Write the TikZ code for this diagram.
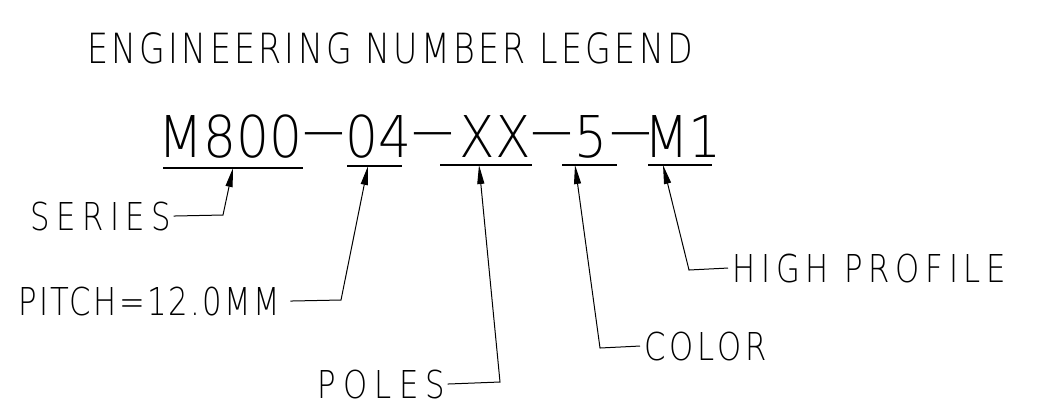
\documentclass[tikz,border=0pt]{standalone}
\usepackage{fontspec}
\newfontfamily\cadfont[FakeStretch=0.8]{DejaVuSans-ExtraLight.ttf}
\newfontfamily\cadwide[FakeStretch=0.9]{DejaVuSans-ExtraLight.ttf}
\newfontfamily\caddash[FakeStretch=2.45]{DejaVuSans-ExtraLight.ttf}
\usetikzlibrary{arrows.meta,positioning}
\tikzset{>={Triangle[length=9.5pt,width=3.5pt]}}
% segment centred on the pen, then move on to the next centre
\newcommand{\pnseg}[2]{\makebox[0pt][c]{#1}\hspace{#2}}
\newcommand{\pndash}[1]{\makebox[0pt][c]{\raisebox{3.75pt}{\caddash -}}\hspace{#1}}
\tikzset{
    legend/.style={inner sep=0pt,anchor=base west,
        font=\cadfont\fontsize{20.8}{20.8}\selectfont\addfontfeature{LetterSpace=7.8}},
    partno/.style={inner sep=0pt,anchor=base west,
        font=\cadwide\fontsize{28.8}{28.8}\selectfont},
    callout/.style={inner sep=0pt,anchor=base west,
        font=\cadfont\fontsize{19.2}{19.2}\selectfont\addfontfeature{LetterSpace=#1}},
    uline/.style={line width=0.6pt},
    leader/.style={->,line width=0.5pt}
}

\begin{document}
\begin{tikzpicture}[x=0.5pt,y=-0.5pt]
    \useasboundingbox (0,0) rectangle (1037,409);
    % title
    \node[legend] (title) at (87,63) {ENGINEERING NUMBER LEGEND};
    % part number
    \node[partno] (pn) at (230,157) {\pnseg{M800}{46.75pt}\pndash{27.5pt}%
        \pnseg{04}{27.25pt}\pndash{31pt}\pnseg{XX}{28.25pt}\pndash{19.75pt}%
        \pnseg{5}{19.75pt}\pndash{26pt}\makebox[0pt][c]{M1}};
    % underlines
    \coordinate (u1a) at (163,168); \coordinate (u1b) at (303,168);
    \coordinate (u2a) at (347,166); \coordinate (u2b) at (402,166);
    \coordinate (u3a) at (440,165); \coordinate (u3b) at (532,165);
    \coordinate (u4a) at (562,165); \coordinate (u4b) at (617,165);
    \coordinate (u5a) at (648,165); \coordinate (u5b) at (712,165);
    \foreach \i in {1,...,5}
        \draw[uline] (u\i a) -- (u\i b);
    % callouts
    \node[callout=17] (series) at (30,230)  {SERIES};
    \node[callout=6]  (pitch)  at (18,315)  {PITCH=12.0MM};
    \node[callout=19] (poles)  at (317,398) {POLES};
    \node[callout=10] (color)  at (644,360) {COLOR};
    \node[callout=15] (high)   at (732,282) {HIGH PROFILE};
    % arrow tips and bends
    \coordinate (t1) at (233,168); \coordinate (b1) at (223,215);
    \coordinate (t2) at (368,166); \coordinate (b2) at (341,300);
    \coordinate (t3) at (479,165); \coordinate (b3) at (500,382);
    \coordinate (t4) at (575,165); \coordinate (b4) at (600,348);
    \coordinate (t5) at (663,165); \coordinate (b5) at (689,270);
    \draw[leader] ([xshift=1pt]series.east) -- (b1) -- (t1);
    \draw[leader] ([xshift=5pt]pitch.east) -- (b2) -- (t2);
    \draw[leader] ([xshift=1pt]poles.east) -- (b3) -- (t3);
    \draw[leader] ([xshift=-2pt]color.west) -- (b4) -- (t4);
    \draw[leader] ([xshift=-2pt]high.west) -- (b5) -- (t5);
\end{tikzpicture}
\end{document}
